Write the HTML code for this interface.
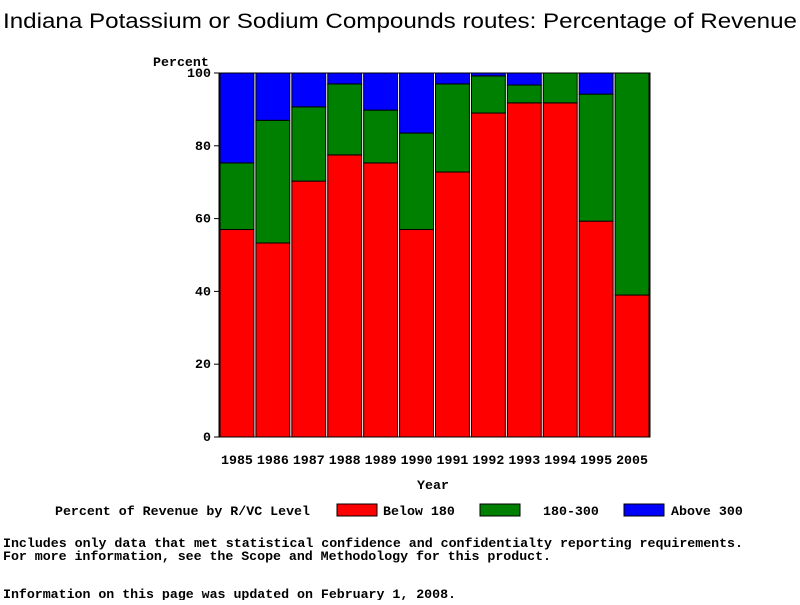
<!DOCTYPE html>
<html><head><meta charset="utf-8"><style>
body{margin:0;background:#fff;width:800px;height:600px;overflow:hidden}
svg text{font-family:"Liberation Mono",monospace;font-weight:bold;font-size:13.3px;fill:#000}
</style></head><body>
<svg id="c" width="800" height="600">
<text x="3" y="28" textLength="794" lengthAdjust="spacingAndGlyphs" style="font-family:'Liberation Sans',sans-serif;font-weight:normal;font-size:21px">Indiana Potassium or Sodium Compounds routes: Percentage of Revenue</text>
<text x="153" y="66">Percent</text>
<text x="433" y="489" text-anchor="middle">Year</text>
<g id="bars"></g><g id="axes"></g>
<g>
<text x="55" y="515" textLength="255">Percent of Revenue by R/VC Level</text>
<rect x="337" y="504" width="40" height="12" fill="#f00" stroke="#000"/>
<text x="383" y="515">Below 180</text>
<rect x="480" y="504" width="40" height="12" fill="#008000" stroke="#000"/>
<text x="543" y="515">180-300</text>
<rect x="624" y="504" width="40" height="12" fill="#00f" stroke="#000"/>
<text x="671" y="515">Above 300</text>
</g>
<text x="3" y="547" textLength="740">Includes only data that met statistical confidence and confidentialty reporting requirements.</text>
<text x="3" y="560" textLength="548">For more information, see the Scope and Methodology for this product.</text>
<text x="3" y="598" textLength="453">Information on this page was updated on February 1, 2008.</text>
</svg>
<script>
const years=["1985","1986","1987","1988","1989","1990","1991","1992","1993","1994","1995","2005"];
const below180=[57,53.3,70.3,77.5,75.3,57,72.8,89,91.8,91.8,59.3,39];
const mid180to300=[18.3,33.7,20.4,19.5,14.5,26.5,24.2,10.2,4.9,8.2,34.9,61];
const yTicks=[0,20,40,60,80,100];
const NS="http://www.w3.org/2000/svg";
const X0=219,X1=650,Y0=437,Y1=73;
const slot=(X1-X0)/years.length;
function ys(v){return Y0-(v/100)*(Y0-Y1);}
function xs(i){return X0+i*slot;}
function mk(t,a,p){const e=document.createElementNS(NS,t);for(const k in a)e.setAttribute(k,a[k]);p.appendChild(e);return e;}
const bars=document.getElementById('bars'),axes=document.getElementById('axes');
years.forEach((y,i)=>{
 const x=xs(i)+1,w=slot-2;
 const r=below180[i],g=mid180to300[i];
 const segs=[[0,r,'#f00','below-180'],[r,r+g,'#008000','180-300'],[r+g,100,'#00f','above-300']];
 segs.forEach(s=>{
  if(s[1]-s[0]<=0.01)return;
  const e=mk('rect',{x:x,y:ys(s[1]),width:w,height:ys(s[0])-ys(s[1]),fill:s[2],stroke:'#000','stroke-width':1},bars);
  
  
 });
 const t=mk('text',{x:xs(i)+slot/2,y:464,'text-anchor':'middle'},axes);t.textContent=y;
 
 
});
const fr=mk('rect',{x:X0,y:Y1,width:X1-X0,height:Y0-Y1,fill:'none',stroke:'#000'},axes);


yTicks.forEach(v=>{
 mk('line',{x1:X0-5,x2:X0,y1:ys(v),y2:ys(v),stroke:'#000'},axes);
 const t=mk('text',{x:X0-8,y:ys(v)+4,'text-anchor':'end'},axes);t.textContent=v;
 
 
});
</script>
</body></html>
